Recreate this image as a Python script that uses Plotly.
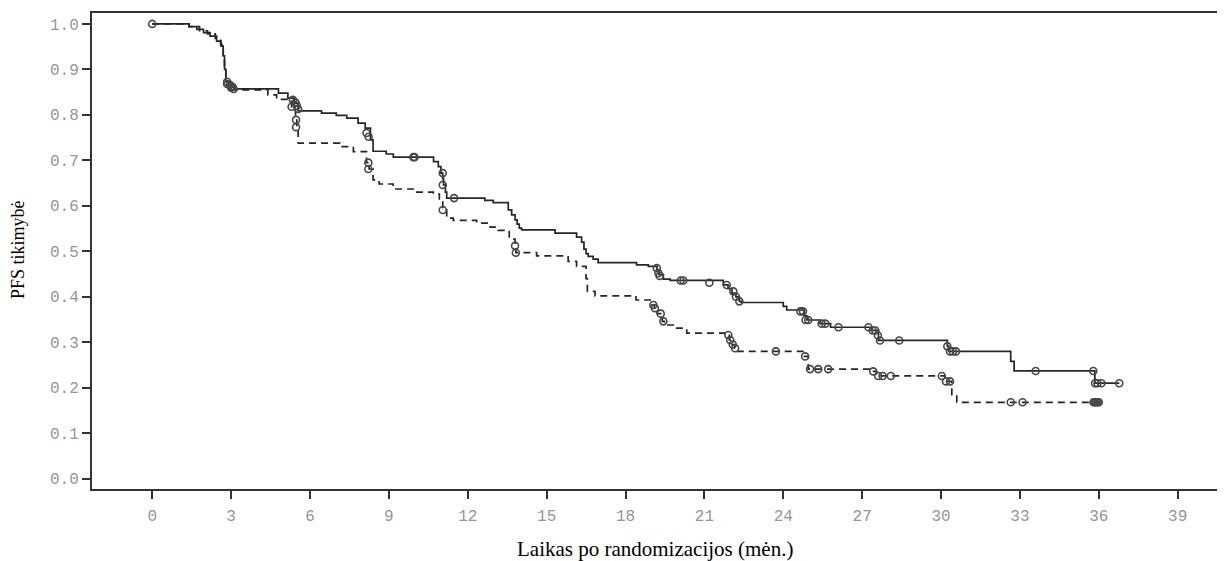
import plotly.graph_objects as go

# ---- Arm A (solid line) : Kaplan-Meier step data ----
a_time = [0, 1.4, 1.7, 1.95, 2.2, 2.45, 2.62, 2.7, 2.75, 2.8, 2.95, 3.1, 4.8, 5.16, 5.4, 5.55,
          6.44, 7.0, 7.4, 7.83, 8.1, 8.3, 8.4, 8.9, 9.17, 10.7, 10.88, 10.98, 11.05, 11.08, 11.15,
          11.2, 12.65, 12.97, 13.54, 13.67, 13.8, 13.88, 13.96, 14.05, 15.32, 16.14, 16.33, 16.42,
          16.5, 16.58, 16.77, 16.96, 18.42, 18.87, 19.2, 19.27, 19.44, 19.7, 21.72, 21.9, 22.05,
          22.2, 22.33, 22.4, 24.0, 24.13, 24.8, 24.9, 25.4, 25.8, 27.35, 27.62, 30.24, 30.3,
          32.65, 32.78, 35.85, 36.78]
a_surv = [1.0, 0.994, 0.988, 0.981, 0.973, 0.962, 0.951, 0.93, 0.90, 0.873, 0.865, 0.857, 0.848,
          0.837, 0.825, 0.809, 0.804, 0.799, 0.793, 0.782, 0.771, 0.745, 0.72, 0.714, 0.707, 0.697,
          0.686, 0.672, 0.660, 0.646, 0.63, 0.617, 0.612, 0.607, 0.591, 0.580, 0.569, 0.56, 0.551,
          0.547, 0.540, 0.531, 0.52, 0.505, 0.495, 0.489, 0.483, 0.475, 0.470, 0.467, 0.458, 0.449,
          0.439, 0.436, 0.426, 0.418, 0.408, 0.40, 0.39, 0.3875, 0.379, 0.371, 0.358, 0.349, 0.341,
          0.333, 0.326, 0.304, 0.291, 0.28, 0.258, 0.237, 0.21, 0.21]
a_cens_t = [0, 2.85, 2.95, 3.05, 3.1, 5.35, 5.45, 5.5, 5.55, 8.15, 8.23, 9.93, 9.98, 11.05, 11.05,
            11.48, 19.19, 19.25, 19.3, 20.1, 20.2, 21.19, 21.85, 22.1, 22.2, 22.33, 24.65, 24.75,
            24.85, 24.95, 25.46, 25.6, 26.1, 27.24, 27.4, 27.5, 27.6, 27.68, 28.41, 30.24, 30.34,
            30.45, 30.57, 33.6, 35.79, 35.86, 35.95, 36.1, 36.78]
a_cens_s = [1.0, 0.873, 0.866, 0.862, 0.857, 0.833, 0.827, 0.82, 0.813, 0.76, 0.752, 0.707, 0.707,
            0.672, 0.646, 0.617, 0.463, 0.452, 0.446, 0.436, 0.436, 0.431, 0.426, 0.412, 0.40, 0.39,
            0.368, 0.368, 0.349, 0.349, 0.341, 0.341, 0.333, 0.333, 0.326, 0.326, 0.315, 0.304,
            0.304, 0.291, 0.28, 0.28, 0.28, 0.237, 0.237, 0.21, 0.21, 0.21, 0.21]

# ---- Arm B (dashed line) ----
b_time = [0, 1.4, 1.8, 2.1, 2.4, 2.6, 2.7, 2.75, 2.8, 2.9, 3.0, 4.4, 4.73, 5.3, 5.45, 5.5, 5.55,
          7.14, 7.65, 8.15, 8.25, 8.4, 8.63, 9.16, 10.0, 10.69, 10.92, 11.05, 11.2, 11.45, 12.34,
          12.85, 13.16, 13.58, 13.8, 13.83, 14.62, 15.82, 16.14, 16.5, 16.55, 16.84, 18.4, 19.0,
          19.1, 19.2, 19.4, 19.48, 19.95, 20.33, 21.85, 21.95, 22.05, 22.15, 22.25, 24.8, 24.95,
          27.36, 27.55, 30.15, 30.41, 30.6, 36.0]
b_surv = [1.0, 0.994, 0.985, 0.978, 0.968, 0.955, 0.93, 0.90, 0.875, 0.865, 0.855, 0.844, 0.834,
          0.818, 0.80, 0.773, 0.738, 0.730, 0.719, 0.695, 0.681, 0.657, 0.648, 0.637, 0.630, 0.626,
          0.609, 0.591, 0.573, 0.568, 0.562, 0.553, 0.546, 0.527, 0.512, 0.497, 0.49, 0.478, 0.467,
          0.44, 0.412, 0.402, 0.393, 0.382, 0.375, 0.363, 0.346, 0.338, 0.331, 0.32, 0.316, 0.305,
          0.295, 0.287, 0.28, 0.269, 0.241, 0.236, 0.226, 0.214, 0.185, 0.168, 0.168]
b_cens_t = [2.85, 3.0, 5.3, 5.47, 5.47, 8.22, 8.22, 11.05, 13.8, 13.83, 19.06, 19.12, 19.34, 19.44,
            21.91, 21.98, 22.08, 22.17, 23.72, 24.83, 25.02, 25.33, 25.71, 27.42, 27.61, 27.78,
            28.09, 30.03, 30.19, 30.34, 32.65, 33.1, 35.8, 35.85, 35.9, 35.95, 36.0]
b_cens_s = [0.868, 0.86, 0.818, 0.789, 0.773, 0.695, 0.681, 0.591, 0.512, 0.497, 0.382, 0.375,
            0.363, 0.346, 0.316, 0.305, 0.295, 0.287, 0.28, 0.269, 0.241, 0.241, 0.241, 0.236,
            0.226, 0.226, 0.226, 0.226, 0.214, 0.214, 0.168, 0.168, 0.168, 0.168, 0.168, 0.168,
            0.168]

x_ticks = [0, 3, 6, 9, 12, 15, 18, 21, 24, 27, 30, 33, 36, 39]
y_ticks = [0.0, 0.1, 0.2, 0.3, 0.4, 0.5, 0.6, 0.7, 0.8, 0.9, 1.0]
x_title = "Laikas po randomizacijos (mėn.)"
y_title = "PFS tikimybė"

LINE = "#262626"
MARK = "#474747"

fig = go.Figure()
fig.add_trace(go.Scatter(x=b_time, y=b_surv, mode="lines", line_shape="hv",
                         line=dict(color=LINE, width=1.7, dash="7px,5px"), hoverinfo="skip"))
fig.add_trace(go.Scatter(x=a_time, y=a_surv, mode="lines", line_shape="hv",
                         line=dict(color=LINE, width=1.7), hoverinfo="skip"))
fig.add_trace(go.Scatter(x=b_cens_t, y=b_cens_s, mode="markers",
                         marker=dict(symbol="circle-open", size=7, color=MARK, line=dict(width=1.6))))
fig.add_trace(go.Scatter(x=a_cens_t, y=a_cens_s, mode="markers",
                         marker=dict(symbol="circle-open", size=7, color=MARK, line=dict(width=1.6))))

tickfont = dict(family="Liberation Mono, Courier New, monospace", size=16, color="#959595")
xtitlefont = dict(family="Liberation Serif, Times New Roman, serif", size=21, color="#000000")
ytitlefont = dict(family="Liberation Serif, Times New Roman, serif", size=18, color="#000000")

# The page body has an 8px margin, so the figure is sized to fit the window.
fig.update_layout(
    width=1217, height=553,
    margin=dict(l=84, r=0, t=5, b=72),
    paper_bgcolor="white", plot_bgcolor="white",
    showlegend=False,
    xaxis=dict(range=[-2.29, 40.8], tickvals=x_ticks, ticktext=[str(v) for v in x_ticks],
               showgrid=False, zeroline=False, showline=True, linecolor="#333", linewidth=2,
               mirror=True, ticks="outside", ticklen=8, tickwidth=1.6, tickcolor="#333",
               tickfont=tickfont, automargin=False, ticklabelstandoff=3),
    yaxis=dict(range=[-0.0226, 1.024], tickvals=y_ticks, ticktext=[f"{v:.1f}" for v in y_ticks],
               showgrid=False, zeroline=False, showline=True, linecolor="#333", linewidth=2,
               ticks="outside", ticklen=8, tickwidth=1.6, tickcolor="#333",
               tickfont=tickfont, automargin=False),
    annotations=[
        dict(text=x_title, xref="paper", yref="paper", x=0.497, y=-0.126,
             xanchor="center", yanchor="middle", showarrow=False, font=xtitlefont),
        dict(text=y_title, xref="paper", yref="paper", x=-0.0653, y=0.502, textangle=-90,
             xanchor="center", yanchor="middle", showarrow=False, font=ytitlefont),
    ],
)

fig.write_html("out.html")
